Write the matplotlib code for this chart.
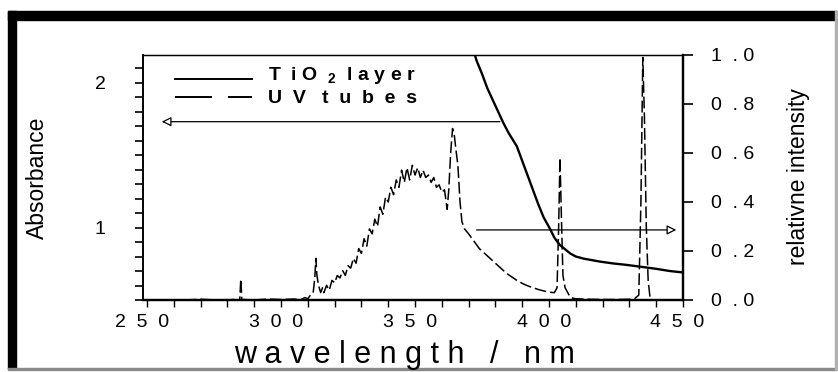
import matplotlib
matplotlib.use("Agg")
import matplotlib.pyplot as plt
from matplotlib.patches import Rectangle

plt.rcParams['font.family'] = ['Liberation Sans', 'DejaVu Sans']
plt.rcParams['lines.scale_dashes'] = False

# TiO2 layer absorbance (left axis)
tio2_nm = [371.0, 373, 375, 377, 379, 381, 383, 385, 388, 391, 394, 396, 398, 400.4,
           402, 404, 406, 408, 410, 413, 416, 419, 424, 429, 434, 440, 445, 450]
tio2_abs = [2.27, 2.15, 2.06, 1.96, 1.88, 1.80, 1.72, 1.65, 1.56, 1.41, 1.26, 1.16, 1.07, 0.99,
            0.93, 0.88, 0.85, 0.82, 0.80, 0.785, 0.775, 0.765, 0.752, 0.742, 0.73, 0.715, 0.70, 0.69]

# UV tubes emission (right axis, relative intensity)
uv_nm = [264, 270, 276, 282, 284.6, 285.0, 285.4, 286, 290, 295, 300, 305, 307, 309, 310,
         311, 312, 312.6, 313.0, 313.4, 314, 314.8, 315.5,
         316, 317, 318, 319, 320, 321, 322, 323, 324, 325, 326, 327, 328, 329, 330,
         331, 332, 333, 334, 335, 336, 337, 338, 339, 340, 341, 342, 343, 344, 345,
         346, 347, 348, 349, 350, 351, 352, 353, 354, 355, 356, 357, 358, 359, 360,
         361, 362, 362.6, 363.3, 364, 364.6, 365.2, 366, 366.8, 367.5, 368.5, 370,
         372, 374, 376, 378, 380, 382, 384, 386, 388, 390, 392, 394, 396, 398, 400,
         402, 403, 403.6, 404.1, 404.6, 405.2, 406, 407, 408, 410, 415, 420, 425, 430,
         432, 433.5, 434.3, 435.0, 435.6, 436.3, 437.0, 437.7, 438.2]
uv_int = [0.0, 0.003, 0.0, 0.002, 0.0, 0.086, 0.0, 0.002, 0.0, 0.004, 0.002, 0.004, 0.0, 0.01, 0.005,
          0.02, 0.03, 0.09, 0.17, 0.10, 0.06, 0.03, 0.05,
          0.03, 0.06, 0.04, 0.08, 0.07, 0.10, 0.09, 0.12, 0.10, 0.14, 0.13, 0.17, 0.15, 0.21, 0.19,
          0.25, 0.22, 0.29, 0.27, 0.33, 0.30, 0.38, 0.35, 0.42, 0.40, 0.46, 0.43, 0.49, 0.46, 0.53,
          0.48, 0.54, 0.49, 0.55, 0.51, 0.54, 0.50, 0.53, 0.50, 0.51, 0.48, 0.50, 0.46, 0.47, 0.44,
          0.45, 0.37, 0.45, 0.60, 0.70, 0.68, 0.62, 0.55, 0.40, 0.32, 0.29, 0.27,
          0.24, 0.21, 0.19, 0.17, 0.15, 0.13, 0.11, 0.095, 0.08, 0.068, 0.058, 0.05, 0.043, 0.037, 0.032,
          0.03, 0.05, 0.30, 0.58, 0.35, 0.10, 0.05, 0.03, 0.01, 0.005, 0.003, 0.002, 0.002, 0.003,
          0.006, 0.02, 0.40, 0.99, 0.75, 0.30, 0.08, 0.01, 0.0]

x_ticks = [250, 300, 350, 400, 450]
x_labels = ["2  5  0  ", "3  0  0  ", "3  5  0  ", "4  0  0  ", "4  5  0  "]
left_ticks = [1, 2]
left_labels = ["1", "2"]
right_ticks = [0.0, 0.2, 0.4, 0.6, 0.8, 1.0]
right_labels = ["0  . 0", "0  . 2", "0  . 4", "0  . 6", "0  . 8", "1  . 0"]

W, H = 838, 372
fig = plt.figure(figsize=(W / 100, H / 100), dpi=100)
ax = fig.add_axes([143 / W, 1 - 300 / H, 540 / W, 245 / H])
ax2 = ax.twinx()

# frame around the whole picture
fig.patches.append(Rectangle((8 / W, 1 - 20 / H), 829 / W, 9 / H, transform=fig.transFigure,
                             color='black', zorder=0))
fig.patches.append(Rectangle((8 / W, 1 - 369 / H), 8 / W, 358 / H, transform=fig.transFigure,
                             color='black', zorder=0))
fig.patches.append(Rectangle((8 / W, 1 - 370 / H), 829 / W, 2.5 / H, transform=fig.transFigure,
                             color='#8a8a8a', zorder=0))
fig.patches.append(Rectangle((835 / W, 1 - 370 / H), 2 / W, 359 / H, transform=fig.transFigure,
                             color='#b0b0b0', zorder=0))

ax.plot(tio2_nm, tio2_abs, color='black', lw=1.7, solid_capstyle='butt', clip_on=True)
ax2.plot(uv_nm, uv_int, color='black', lw=1.1, linestyle=(0, (8.5, 2.8)))

ax.set_xlim(248.5, 450)
ax.set_ylim(0.5, 2.19)
ax2.set_ylim(0, 1.0)

ax.set_xticks(x_ticks)
ax.set_xticklabels(x_labels, fontsize=14)
ax.set_xticks(range(260, 450, 10), minor=True)
ax.set_yticks(left_ticks)
ax.set_yticklabels(left_labels, fontsize=14)
ax.set_yticks([v / 10 for v in range(5, 22)], minor=True)
ax2.set_yticks(right_ticks)
ax2.set_yticklabels(right_labels, fontsize=14)

ax.tick_params(axis='x', which='both', direction='out', length=5, width=1, pad=5)
ax.tick_params(axis='y', which='both', direction='out', length=6, width=1.2, pad=21)
ax2.tick_params(axis='y', direction='out', length=7, width=1.2, pad=13)

for a in (ax, ax2):
    a.spines['top'].set_linewidth(0.9)
    a.spines['left'].set_linewidth(1.2)
    a.spines['bottom'].set_linewidth(1.6)
    a.spines['right'].set_linewidth(1.6)

# arrows pointing to the corresponding axes
ax.annotate('', xy=(255.5, 1.73), xytext=(381.7, 1.73),
            arrowprops=dict(arrowstyle='-|>', fc='white', ec='black', lw=0.9,
                            mutation_scale=14, shrinkA=0, shrinkB=0))
ax2.annotate('', xy=(447.5, 0.286), xytext=(373, 0.286),
             arrowprops=dict(arrowstyle='-|>', fc='white', ec='black', lw=0.9,
                             mutation_scale=14, shrinkA=0, shrinkB=0))

# legend drawn by hand
ax.plot([0.059, 0.202], [0.902, 0.902], transform=ax.transAxes, color='black', lw=1.4)
ax.plot([0.059, 0.202], [0.829, 0.829], transform=ax.transAxes, color='black', lw=1.4,
        linestyle=(0, (26.6, 11.5)))
ax.text(0.231, 0.898, r"T  i O  $_{\mathregular{2}}$  l a y e r", transform=ax.transAxes,
        fontsize=14, fontweight='bold', va='baseline', ha='left')
ax.text(0.231, 0.804, "U  V   t  u  b  e  s", transform=ax.transAxes,
        fontsize=14, fontweight='bold', va='baseline', ha='left')

fig.text(37 / W, 1 - 178 / H, "Absorbance", rotation=90, fontsize=16.5, ha='center', va='center')
fig.text(798 / W, 1 - 177 / H, "relativne intensity", rotation=90, fontsize=16.5,
         ha='center', va='center')
fig.text(404 / W, 1 - 355 / H, "w a v e l e n g t h   /   n m", fontsize=22,
         ha='center', va='center')

fig.savefig("out.png", dpi=100)
